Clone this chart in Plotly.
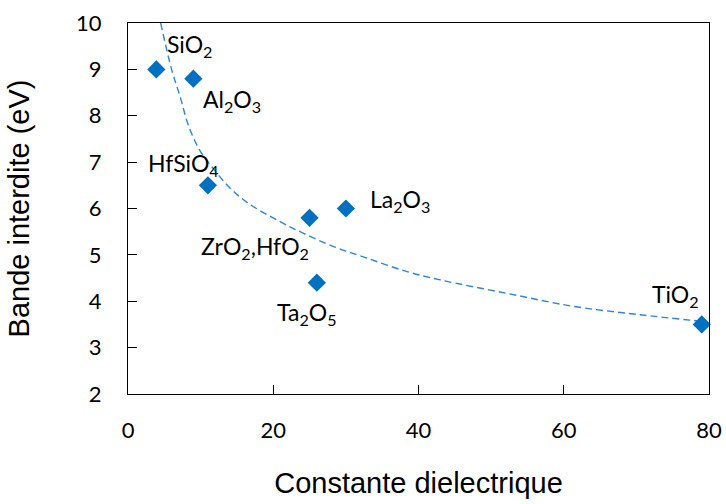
import plotly.graph_objects as go

# oxides: dielectric constant vs band gap
materials = ["SiO<sub>2</sub>", "Al<sub>2</sub>O<sub>3</sub>", "HfSiO<sub>4</sub>",
             "ZrO<sub>2</sub>,HfO<sub>2</sub>", "La<sub>2</sub>O<sub>3</sub>",
             "Ta<sub>2</sub>O<sub>5</sub>", "TiO<sub>2</sub>"]
k_values = [3.9, 9, 11, 25, 30, 26, 79]
gap_values = [9.0, 8.8, 6.5, 5.8, 6.0, 4.4, 3.5]

# trend line
trend_k = [4.5, 6.0, 7.2, 8.3, 9.9, 11.8, 14.0, 16.5, 20.9, 24.1, 28.3, 32.9,
           38.4, 43.0, 52.2, 61.3, 70.5, 78.8]
trend_gap = [10.0, 9.0, 8.4, 7.8, 7.25, 6.85, 6.45, 6.12, 5.72, 5.47, 5.18, 4.93,
             4.64, 4.46, 4.17, 3.89, 3.71, 3.57]

# label offsets (px) from each point
label_dx = [9, 8, -24, -55, 22, -10, -26]
label_dy = [24, -22, 21, -30, 8, -31, 29]
label_anchor = ["left", "left", "center", "center", "left", "center", "center"]

FONT = "Lato"
TITLE_FONT = "Liberation Sans"

fig = go.Figure()
fig.add_trace(go.Scatter(x=trend_k, y=trend_gap, mode="lines",
                         line=dict(color="#2E86D4", width=1.4, dash="7px,4px", shape="spline"),
                         hoverinfo="skip"))
fig.add_trace(go.Scatter(x=k_values, y=gap_values, mode="markers",
                         marker=dict(symbol="diamond", size=14, color="#0070C0"),
                         cliponaxis=False))

for name, x, y, dx, dy, anc in zip(materials, k_values, gap_values, label_dx, label_dy, label_anchor):
    fig.add_annotation(x=x, y=y, text=name, showarrow=False, xanchor=anc, yanchor="middle",
                       xshift=dx, yshift=dy, font=dict(family=FONT, size=23, color="black"))

fig.update_layout(
    width=726, height=504,
    margin=dict(l=128, r=17, t=23, b=110),
    paper_bgcolor="white", plot_bgcolor="white",
    showlegend=False,
    font=dict(family=FONT, size=22, color="black"),
)
fig.update_xaxes(range=[0, 80], tickvals=[0, 20, 40, 60, 80], ticks="inside", ticklen=9,
                 tickcolor="black", showline=True, linecolor="black", linewidth=1, mirror=True,
                 showgrid=False, zeroline=False, ticklabelstandoff=17, automargin=False,
                 title=dict(text="Constante dielectrique", standoff=30,
                            font=dict(family=TITLE_FONT, size=29)))
fig.update_yaxes(range=[2, 10], tickvals=list(range(2, 11)), ticks="inside", ticklen=9,
                 tickcolor="black", showline=True, linecolor="black", linewidth=1, mirror=True,
                 showgrid=False, zeroline=False, ticklabelstandoff=21, automargin=False,
                 title=dict(text="Bande interdite (eV)", standoff=37,
                            font=dict(family=TITLE_FONT, size=29)))

# drop the default 8px body margin so the page matches the figure size
fig.write_html("out.html", config={"displayModeBar": False},
               post_script="document.body.style.margin='0';")
